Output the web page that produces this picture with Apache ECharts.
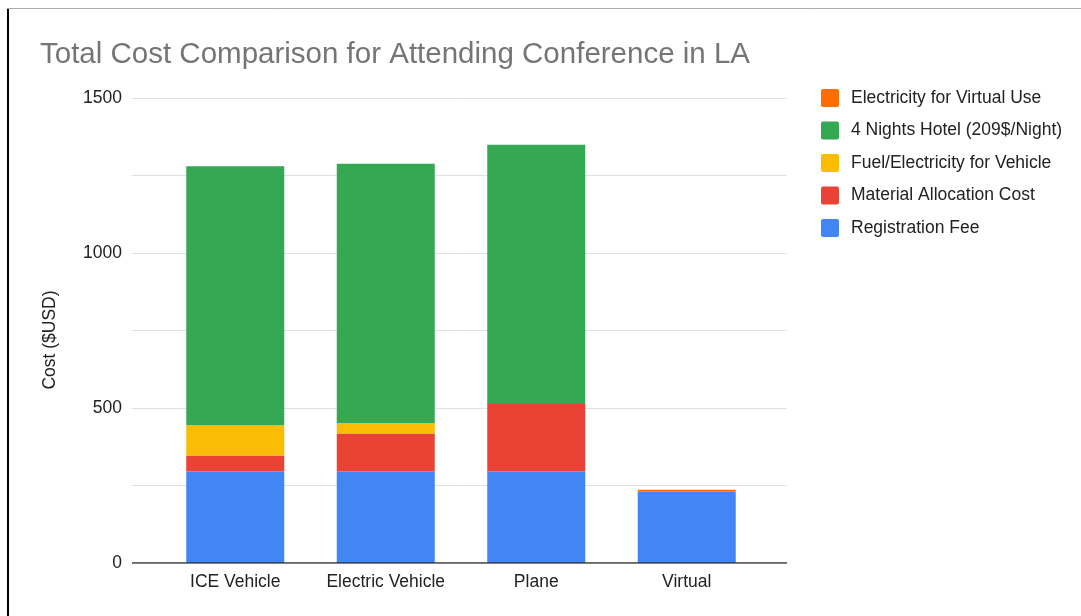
<!DOCTYPE html>
<html><head><meta charset="utf-8">
<script src="https://cdn.jsdelivr.net/npm/echarts@6/dist/echarts.min.js"></script>
<style>html,body{margin:0;padding:0;background:#fff}#c{width:1081px;height:616px}</style>
</head><body><div id="c"></div>
<script>
const categories = ['ICE Vehicle', 'Electric Vehicle', 'Plane', 'Virtual'];
const registrationFee = [295, 295, 295, 230];
const materialCost = [52, 123, 218, 0];
const fuelCost = [97, 34, 0, 0];
const hotelCost = [836, 836, 836, 0];
const virtualElectricity = [0, 0, 0, 6];
const yTicks = [0, 500, 1000, 1500];

const seriesDefs = [
  {name: 'Registration Fee', data: registrationFee, color: '#4285F4'},
  {name: 'Material Allocation Cost', data: materialCost, color: '#EA4335'},
  {name: 'Fuel/Electricity for Vehicle', data: fuelCost, color: '#FBBC04'},
  {name: '4 Nights Hotel (209$/Night)', data: hotelCost, color: '#34A853'},
  {name: 'Electricity for Virtual Use', data: virtualElectricity, color: '#FF6D01'}
];
const font = 'Arial, "Liberation Sans", sans-serif';
const fs = 17.5;
const chart = echarts.init(document.getElementById('c'));
chart.setOption({
  animation: false,
  textStyle: {fontFamily: font},
  title: {
    text: 'Total Cost Comparison for Attending Conference in LA',
    left: 35, top: 35,
    textStyle: {fontFamily: font, fontSize: 29.5, fontWeight: 'normal', color: '#757575'}
  },
  legend: {
    orient: 'vertical', left: 816, top: 84,
    itemWidth: 18, itemHeight: 18, itemGap: 14.5,
    icon: 'path://M2,0 L16,0 Q18,0 18,2 L18,16 Q18,18 16,18 L2,18 Q0,18 0,16 L0,2 Q0,0 2,0 Z',
    data: seriesDefs.slice().reverse().map(s => s.name),
    textStyle: {fontFamily: font, fontSize: fs, color: '#222', padding: [0, 0, 0, 7]}
  },
  grid: [
    {left: 132, right: 294, top: 98, bottom: 53},
    {left: 160, right: 319, top: 98, bottom: 53}
  ],
  xAxis: [
    {gridIndex: 0, type: 'value', min: 0, max: 1, show: true,
      axisLine: {show: false}, axisTick: {show: false}, axisLabel: {show: false}, splitLine: {show: false}},
    {gridIndex: 1, type: 'category', data: categories,
      axisLine: {show: false}, axisTick: {show: false},
      axisLabel: {interval: 0, fontFamily: font, fontSize: fs, color: '#222', margin: 10}}
  ],
  yAxis: [
    {gridIndex: 0, type: 'value', min: 0, max: 1500, interval: 250,
      axisLine: {show: false}, axisTick: {show: false},
      axisLabel: {fontFamily: font, fontSize: fs, color: '#222', margin: 10,
        formatter: v => yTicks.includes(v) ? String(v) : ''},
      splitLine: {lineStyle: {color: '#e0e0e0', width: 1}}},
    {gridIndex: 1, type: 'value', min: 0, max: 1500, interval: 250, show: false,
      splitLine: {show: false}}
  ],
  series: seriesDefs.map(s => ({
    name: s.name, type: 'bar', stack: 'total', xAxisIndex: 1, yAxisIndex: 1,
    barWidth: 98, data: s.data, itemStyle: {color: s.color}
  })).concat([{
    type: 'line', xAxisIndex: 0, yAxisIndex: 0, data: [[0, 0], [1, 0]],
    symbol: 'none', silent: true, lineStyle: {color: '#333', width: 1.5}, z: 5
  }]),
  graphic: [
    {type: 'line', shape: {x1: 7, y1: 8.5, x2: 1081, y2: 8.5}, style: {stroke: '#aaaaaa', lineWidth: 1}},
    {type: 'line', shape: {x1: 8, y1: 9, x2: 8, y2: 616}, style: {stroke: '#000', lineWidth: 2}},
    {type: 'text', x: 50, y: 340, rotation: Math.PI / 2,
      style: {text: 'Cost ($USD)', font: fs + 'px ' + font, fill: '#222', align: 'center', verticalAlign: 'middle'}}
  ]
});
</script></body></html>
